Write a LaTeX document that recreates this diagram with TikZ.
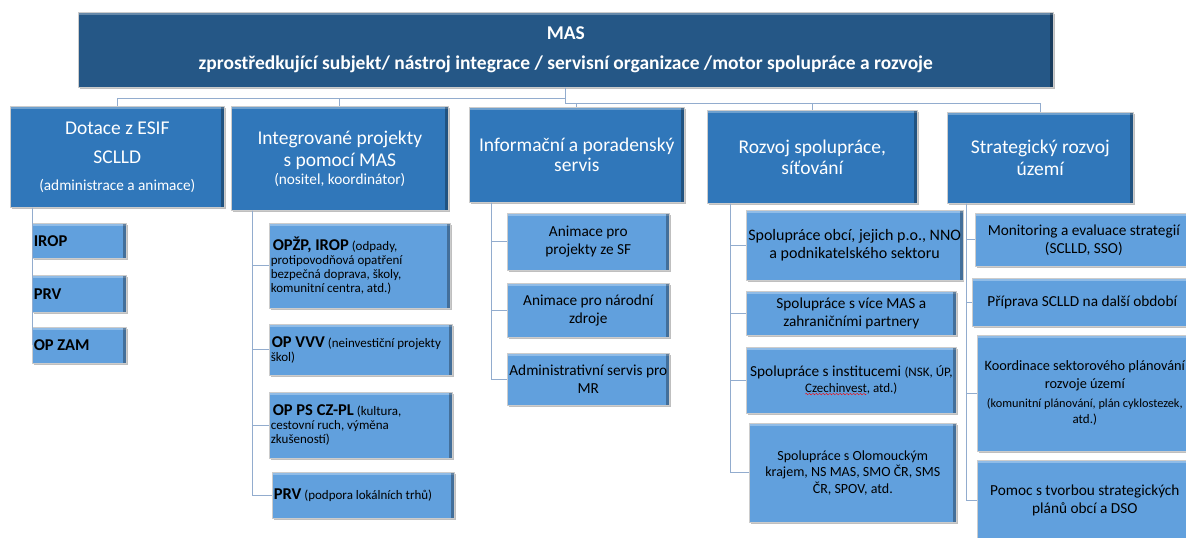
\documentclass[tikz,border=0pt]{standalone}
\usepackage{fontspec}
\setmainfont{Carlito}
\usetikzlibrary{shadows}
\definecolor{masblue}{RGB}{37,87,134}
\definecolor{midblue}{RGB}{48,119,186}
\definecolor{lightblue}{RGB}{97,160,221}
\definecolor{linkblue}{RGB}{146,172,206}
\newcommand\fmas{\fontsize{19.5}{23}\selectfont\bfseries}
\newcommand\flv{\fontsize{19.5}{22}\selectfont}
\newcommand\fch{\fontsize{15.3}{18}\selectfont}
\newcommand\fsm{\fontsize{13}{14}\selectfont}
\newcommand\fhd{\fontsize{16.5}{18}\selectfont\bfseries}
\newcommand\wavepiece{\tikz\draw[red,line width=.4pt] (0pt,0pt) sin (0.75pt,0.7pt) cos (1.5pt,0pt) sin (2.25pt,-0.7pt) cos (3pt,0pt);}
\newcommand\redwave[1]{\setbox0\hbox{#1}\rlap{\raisebox{-2.5pt}{\hbox to \wd0{\leaders\hbox{\wavepiece}\hfill}}}\box0}
\begin{document}
\begin{tikzpicture}[x=1pt,y=-1pt]
\useasboundingbox (0,0) rectangle (1186,538);
\clip (0,0) rectangle (1186,538);
\tikzstyle{bevel}=[anchor=north west,draw=black!20,line width=0.6pt,
  drop shadow={shadow xshift=1.5pt,shadow yshift=-1.5pt,fill=black!50},
  path picture={\fill[white,opacity=.3] (path picture bounding box.north west) rectangle ([yshift=-2.5pt]path picture bounding box.north east);
    \fill[black,opacity=.3] (path picture bounding box.north east) rectangle ([xshift=-3pt]path picture bounding box.south east);}]
\tikzstyle{top}=[bevel,fill=masblue,text=white,font=\fmas,align=center]
\tikzstyle{lv}=[bevel,fill=midblue,text=white,font=\flv,align=center]
\tikzstyle{ch}=[bevel,fill=lightblue,text=black,font=\fch,align=center,inner sep=2pt]
\tikzstyle{chl}=[ch,align=flush left,inner xsep=1.5pt]
\tikzstyle{conn}=[draw=linkblue,line width=1pt]
\node[top,minimum width=975,minimum height=75] (mas) at (78,12)
  {MAS\\[7pt] zprostředkující subjekt/ nástroj integrace / servisní organizace /motor spolupráce a rozvoje};
\node[lv,minimum width=214,minimum height=101] (dot) at (10,106)
  {Dotace z ESIF\\[7pt] SCLLD\\[5pt] {\fch (administrace a animace)}};
\node[lv,minimum width=217,minimum height=104] (int) at (231,106)
  {Integrované projekty\\ s pomocí MAS\\[-4pt] {\fch (nositel, koordinátor)}};
\node[lv,minimum width=215,minimum height=95] (inf) at (469,107)
  {Informační a poradenský\\[-2pt] servis};
\node[lv,minimum width=210,minimum height=93] (roz) at (707,110)
  {Rozvoj spolupráce,\\[-1pt] síťování};
\node[lv,minimum width=186,minimum height=91] (str) at (947,112)
  {Strategický rozvoj\\ území};
\coordinate (b1) at (32,0);
\coordinate (b2) at (252,0);
\coordinate (b3) at (491,0);
\coordinate (b4) at (730,0);
\coordinate (b5) at (966,0);
\node[chl,font=\fhd,text width=91,minimum height=35] (irop) at (32,223) {IROP};
\node[chl,font=\fhd,text width=91,minimum height=37] (prv) at (32,275) {PRV};
\node[chl,font=\fhd,text width=91,minimum height=36] (opzam) at (32,327) {OP ZAM};
\node[chl,font=\fsm,text width=178,minimum height=85] (ip1) at (269,223)
  {\hspace{2pt}{\fhd OPŽP, IROP} (odpady,\\ protipovodňová opatření\\ bezpečná doprava, školy,\\ komunitní centra, atd.)};
\node[chl,font=\fsm,text width=180,minimum height=51] (ip2) at (269,324)
  {\hspace{1pt}{\fhd OP VVV} (neinvestiční projekty\\ škol)};
\node[chl,font=\fsm,text width=180,minimum height=66] (ip3) at (269,392)
  {\hspace{2pt}{\fhd OP PS CZ-PL} (kultura,\\ cestovní ruch, výměna\\ zkušeností)};
\node[chl,font=\fsm,text width=179,minimum height=46] (ip4) at (272,472)
  {{\fhd PRV} (podpora lokálních trhů)};
\node[ch,minimum width=162,minimum height=57] (an1) at (507,213) {Animace pro\\ projekty ze SF};
\node[ch,minimum width=162,minimum height=54] (an2) at (507,283) {Animace pro národní\\ zdroje};
\node[ch,minimum width=162,minimum height=52] (an3) at (507,353) {Administrativní servis pro\\ MR};
\node[ch,font=\fontsize{16}{18.5}\selectfont,minimum width=210,minimum height=70] (sp1) at (746,210)
  {Spolupráce obcí, jejich p.o., NNO\\ a podnikatelského sektoru};
\node[ch,minimum width=210,minimum height=44] (sp2) at (746,291)
  {Spolupráce s více MAS a\\ zahraničními partnery};
\node[ch,minimum width=210,minimum height=66] (sp3) at (746,347)
  {Spolupráce s institucemi {\fsm (NSK, ÚP,}\\[-2pt] {\fsm\redwave{Czechinvest}, atd.)}};
\node[ch,font=\fontsize{14}{16.7}\selectfont,minimum width=207,minimum height=99] (sp4) at (749,423)
  {Spolupráce s Olomouckým\\ krajem, NS MAS, SMO ČR, SMS\\ ČR, SPOV, atd.};
\node[ch,minimum width=217,minimum height=53] (st1) at (975,213)
  {Monitoring a evaluace strategií\\ (SCLLD, SSO)};
\node[ch,minimum width=220,minimum height=48] (st2) at (972,278)
  {Příprava SCLLD na další období};
\node[ch,font=\fontsize{14.3}{18}\selectfont,minimum width=215,minimum height=116] (st3) at (977,335)
  {Koordinace sektorového plánování\\ rozvoje území\\[1pt] {\fontsize{12.3}{14}\selectfont (komunitní plánování, plán cyklostezek,}\\[-2pt] {\fsm atd.)}};
\node[ch,minimum width=215,minimum height=81] (st4) at (977,460)
  {Pomoc s tvorbou strategických\\ plánů obcí a DSO};
\draw[conn] (mas.south) -- ++(0,11) coordinate (busl) -| (dot.north);
\draw[conn] (busl) -| (int.north);
\draw[conn] (mas.south) -- ++(0,16) coordinate (busr) -| (inf.north);
\draw[conn] (busr) -| (roz.north);
\draw[conn] (busr) -| (str.north);
\foreach \c in {irop,prv,opzam} \draw[conn] (dot.south -| b1) |- (\c.west);
\foreach \c in {ip1,ip2,ip3,ip4} \draw[conn] (int.south -| b2) |- (\c.west);
\foreach \c in {an1,an2,an3} \draw[conn] (inf.south -| b3) |- (\c.west);
\foreach \c in {sp1,sp2,sp3,sp4} \draw[conn] (roz.south -| b4) |- (\c.west);
\foreach \c in {st1,st2,st3,st4} \draw[conn] (str.south -| b5) |- (\c.west);
\end{tikzpicture}
\end{document}
